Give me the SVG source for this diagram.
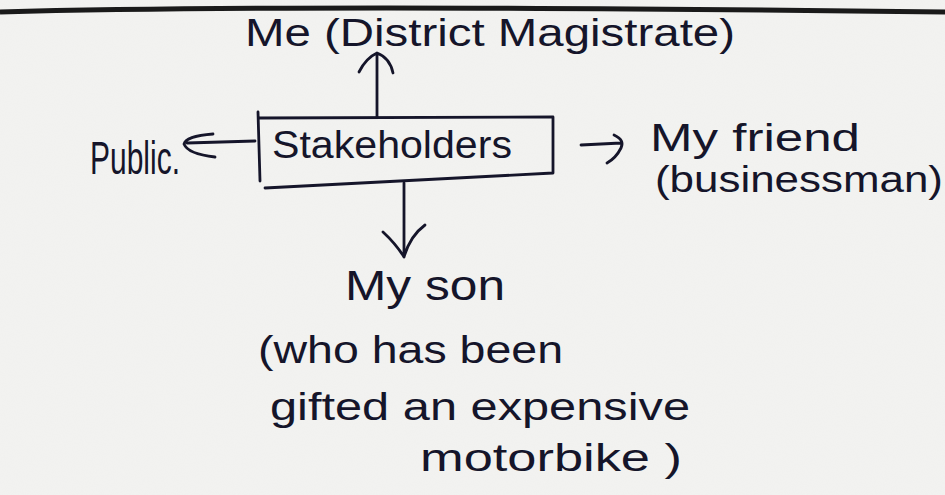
<svg xmlns="http://www.w3.org/2000/svg" width="945" height="495" viewBox="0 0 945 495">
  <style>
    .ink { fill: #15152a; font-family: "Liberation Sans", "DejaVu Sans", sans-serif; }
    .stroke { fill: none; stroke: #15152a; stroke-width: 2.8; stroke-linecap: round; stroke-linejoin: round; }
  </style>
  <defs>
    <filter id="paper" x="0" y="0" width="100%" height="100%">
      <feTurbulence type="fractalNoise" baseFrequency="0.9" numOctaves="2" seed="3" result="n"/>
      <feColorMatrix in="n" type="matrix" values="0 0 0 0 0.5  0 0 0 0 0.5  0 0 0 0 0.5  0 0 0 0.05 0"/>
    </filter>
  </defs>

  <!-- paper -->
  <rect x="0" y="0" width="945" height="495" fill="#f3f3f1"/>
  <rect x="0" y="0" width="945" height="495" filter="url(#paper)"/>

  <!-- ruled top edge -->
  <path d="M0 12 Q 300 4 945 12" fill="none" stroke="#1a1a1a" stroke-width="5"/>

  <g id="node-me">
    <text class="ink" x="245" y="46" font-size="38" textLength="490" lengthAdjust="spacingAndGlyphs">Me (District Magistrate)</text>
  </g>

  <g id="node-stakeholders">
    <path class="stroke" d="M258 112 L260 181 M260 118 L553 117 L553 173 L265 188"/>
    <text class="ink" x="272" y="158" font-size="38" textLength="240" lengthAdjust="spacingAndGlyphs">Stakeholders</text>
  </g>

  <g id="node-public">
    <text class="ink" x="90" y="174" font-size="46" textLength="90" lengthAdjust="spacingAndGlyphs">Public.</text>
  </g>

  <g id="node-friend">
    <text class="ink" x="650" y="151" font-size="38" textLength="210" lengthAdjust="spacingAndGlyphs">My friend</text>
    <text class="ink" x="655" y="192" font-size="36" textLength="288" lengthAdjust="spacingAndGlyphs">(businessman)</text>
  </g>

  <g id="node-son">
    <text class="ink" x="345" y="300" font-size="42" textLength="160" lengthAdjust="spacingAndGlyphs">My son</text>
    <text class="ink" x="258" y="363" font-size="38" textLength="305" lengthAdjust="spacingAndGlyphs">(who has been</text>
    <text class="ink" x="270" y="420" font-size="38" textLength="420" lengthAdjust="spacingAndGlyphs">gifted an expensive</text>
    <text class="ink" x="420" y="471" font-size="38" textLength="262" lengthAdjust="spacingAndGlyphs">motorbike )</text>
  </g>

  <g id="connectors">
    <!-- up to Me -->
    <path class="stroke" d="M377 117 L377 54 M359 72 Q 366 58 377 53 Q 390 58 393 73"/>
    <!-- left to Public -->
    <path class="stroke" d="M255 141 L187 143 M213 134 Q 186 136 184 144 Q 188 154 215 157"/>
    <!-- right to friend -->
    <path class="stroke" d="M581 145 L621 143 M614 135 Q 625 140 621 148 Q 616 158 607 163"/>
    <!-- down to son -->
    <path class="stroke" d="M404 183 L404 256 M383 232 Q 396 244 404 257 Q 410 236 425 225"/>
  </g>
</svg>
